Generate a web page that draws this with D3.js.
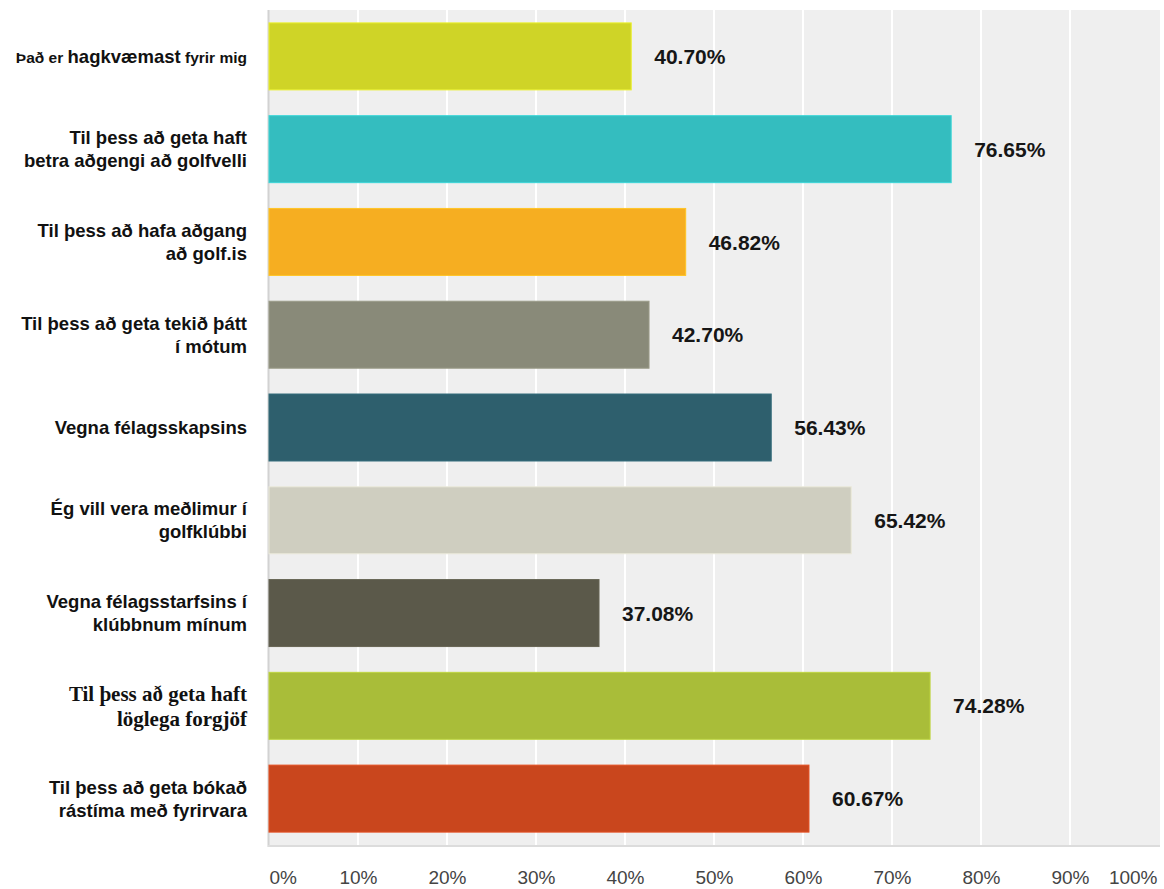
<!DOCTYPE html>
<html>
<head>
<meta charset="utf-8">
<script src="https://cdn.jsdelivr.net/npm/d3@7"></script>
<style>
  html, body { margin: 0; padding: 0; background: #ffffff; }
  svg { display: block; }
</style>
</head>
<body>
<svg id="chart" width="1164" height="889"></svg>
<script>
// Survey answers: reasons for club membership (share of respondents, %)
const categories = [
  "Það er hagkvæmast fyrir mig",
  "Til þess að geta haft\nbetra aðgengi að golfvelli",
  "Til þess að hafa aðgang\nað golf.is",
  "Til þess að geta tekið þátt\ní mótum",
  "Vegna félagsskapsins",
  "Ég vill vera meðlimur í\ngolfklúbbi",
  "Vegna félagsstarfsins í\nklúbbnum mínum",
  "Til þess að geta haft\nlöglega forgjöf",
  "Til þess að geta bókað\nrástíma með fyrirvara"
];
const values = [40.70, 76.65, 46.82, 42.70, 56.43, 65.42, 37.08, 74.28, 60.67];
const colors = ["#cfd427", "#34bdbf", "#f6ae21", "#898a79", "#2e5f6d",
                "#cfcec0", "#5b594a", "#a9bd39", "#c9461d"];
const tickValues = [0, 10, 20, 30, 40, 50, 60, 70, 80, 90, 100];

const svg = d3.select("#chart");
const plot = { left: 269, right: 1159, top: 10, bottom: 845 };
const sans = "'Liberation Sans', Arial, Helvetica, sans-serif";
const serif = "'Liberation Serif', 'Times New Roman', Times, serif";

const x = d3.scaleLinear().domain([0, 100]).range([plot.left, plot.right]);
const y = d3.scaleBand()
  .domain(d3.range(categories.length))
  .range([plot.top, plot.bottom])
  .paddingInner(0.278)
  .paddingOuter(0.139);

// Plot background
svg.append("rect")
  .attr("x", plot.left).attr("y", plot.top)
  .attr("width", plot.right - plot.left + 1)
  .attr("height", plot.bottom - plot.top)
  .attr("fill", "#efefef");

// Vertical gridlines
svg.append("g")
  .selectAll("line")
  .data(tickValues.filter(t => t > 0 && t < 100))
  .join("line")
  .attr("x1", d => x(d)).attr("x2", d => x(d))
  .attr("y1", plot.top).attr("y2", plot.bottom)
  .attr("stroke", "#ffffff")
  .attr("stroke-width", 2);

// Left and bottom frame
svg.append("line")
  .attr("x1", plot.left - 0.5).attr("x2", plot.left - 0.5)
  .attr("y1", plot.top).attr("y2", plot.bottom + 2)
  .attr("stroke", "#d2d2d2").attr("stroke-width", 2);
svg.append("line")
  .attr("x1", plot.left - 1).attr("x2", plot.right + 1)
  .attr("y1", plot.bottom + 1).attr("y2", plot.bottom + 1)
  .attr("stroke", "#dcdcdc").attr("stroke-width", 2);

// Bars
svg.append("g")
  .selectAll("rect")
  .data(values)
  .join("rect")
  .attr("x", x(0))
  .attr("y", (d, i) => y(i))
  .attr("width", d => x(d) - x(0))
  .attr("height", y.bandwidth())
  .attr("fill", (d, i) => colors[i])
  .attr("stroke", (d, i) => d3.color(colors[i]).brighter(0.35))
  .attr("stroke-width", 1);

// Value labels
svg.append("g")
  .selectAll("text")
  .data(values)
  .join("text")
  .attr("x", d => x(d) + 23)
  .attr("y", (d, i) => y(i) + y.bandwidth() / 2)
  .attr("dy", "0.36em")
  .attr("font-family", sans)
  .attr("font-weight", "bold")
  .attr("font-size", 21)
  .attr("fill", "#161616")
  .text(d => d3.format(".2f")(d) + "%");

// Category labels
const labelX = 247;
const catG = svg.append("g");
categories.forEach((label, i) => {
  const lines = label.split("\n");
  const isSerif = i === 7;
  const size = isSerif ? 21 : 18.5;
  const lineH = isSerif ? 25 : 23;
  const cy = y(i) + y.bandwidth() / 2;
  const t = catG.append("text")
    .attr("x", labelX)
    .attr("text-anchor", "end")
    .attr("font-family", isSerif ? serif : sans)
    .attr("font-weight", "bold")
    .attr("font-size", size)
    .attr("fill", "#111");
  lines.forEach((ln, k) => {
    const yy = cy + (k - (lines.length - 1) / 2) * lineH;
    if (i === 0) {
      // first answer: key word set larger than the rest of the line
      const parts = ln.split("hagkvæmast");
      const row = t.append("tspan").attr("x", labelX).attr("y", yy).attr("dy", "0.36em");
      row.append("tspan").attr("font-size", 15.5).text(parts[0]);
      row.append("tspan").attr("font-size", 18.5).text("hagkvæmast");
      row.append("tspan").attr("font-size", 15.5).text(parts[1]);
    } else {
      t.append("tspan").attr("x", labelX).attr("y", yy).attr("dy", "0.36em").text(ln);
    }
  });
});

// Bottom axis
const axis = d3.axisBottom(x)
  .tickValues(tickValues)
  .tickSize(0)
  .tickPadding(26)
  .tickFormat(d => d + "%");
const axG = svg.append("g")
  .attr("transform", `translate(0,${plot.bottom})`)
  .call(axis);
axG.select(".domain").remove();
axG.selectAll("text")
  .attr("font-family", sans)
  .attr("font-size", 19)
  .attr("fill", "#444");
axG.selectAll(".tick")
  .filter(d => d === 0)
  .select("text")
  .attr("text-anchor", "start");
axG.selectAll(".tick")
  .filter(d => d === 100)
  .select("text")
  .attr("text-anchor", "end")
  .attr("x", -2);
</script>
</body>
</html>
